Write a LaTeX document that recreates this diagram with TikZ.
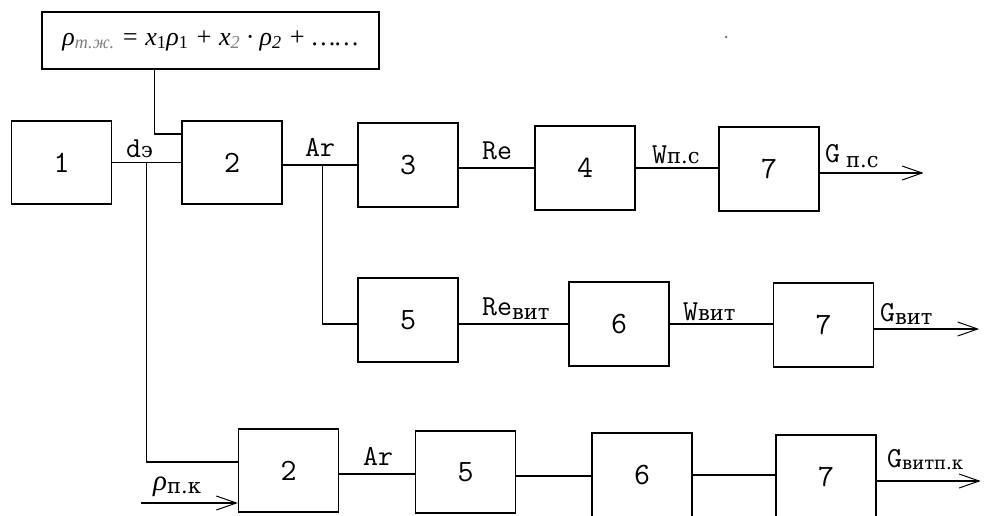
\documentclass[tikz,border=0pt]{standalone}
\usepackage{fontspec}
\setmainfont{Liberation Serif}
\newfontfamily\cyr{DejaVu Serif}
\usetikzlibrary{arrows.meta,calc}
\newcommand{\cy}[1]{{\cyr\fontsize{21}{23}\selectfont #1}}
\begin{document}
\begin{tikzpicture}[x=1pt,y=-1pt,
  blk/.style={draw,line width=1.3pt,minimum width=100pt,minimum height=84pt,inner sep=0pt,font=\ttfamily\fontsize{31}{33}\selectfont},
  lbl/.style={font=\ttfamily\fontsize{29}{31}\selectfont,inner sep=0pt},
  wire/.style={line width=1.3pt},
  outarrow/.style={wire,-{Straight Barb[length=20pt,width=14pt,line width=1pt]}}]
\useasboundingbox (0,0) rectangle (994,515);
\clip (0,0) rectangle (994,515);
% formula
\node[draw,line width=1.3pt,minimum width=337pt,minimum height=57pt,inner sep=0pt,
  font=\fontsize{26}{28}\selectfont\itshape] (f) at (210.5,40.5)
  {ρ\textsubscript{\color{gray}т.ж.} = x\textsubscript{\upshape 1}ρ\textsubscript{\upshape 1} + x\textsubscript{\color{gray}2} · ρ\textsubscript{2} + ……};
% row 1
\node[blk,minimum height=83pt] (b1) at (61.5,162.5) {1};
\node[blk,minimum height=83pt] (b2) at (232,162.5) {2};
\node[blk] (b3) at (408,165) {3};
\node[blk] (b4) at (585,168) {4};
\node[blk] (b7a) at (769,169) {7};
% row 2
\node[blk] (b5) at (408,320) {5};
\node[blk] (b6) at (619,324) {6};
\node[blk] (b7b) at (823.5,325) {7};
% row 3
\node[blk,minimum height=83pt] (b2c) at (288.5,470.5) {2};
\node[blk,minimum height=82pt] (b5c) at (465.5,472) {5};
\node[blk] (b6c) at (642,475) {6};
\node[blk] (b7c) at (826,477) {7};
% wires
\draw[wire] (b1.east) -- (b2.west);
\coordinate (jd) at ($(b1.east)+(34.5,0)$);
\draw[wire] (jd) |- ($(b2c.west)+(0,-8.5)$);
\draw[wire] ($(f.south west)+(113,0)$) |- ($(b2.west)+(0,-28.5)$);
\draw[wire] (b2.east |- b3.west) -- (b3.west);
\coordinate (ja) at ($(b2.east |- b3.west)+(40,0)$);
\draw[wire] (ja) |- (b5.west |- b6.west);
\draw[wire] (b5.east |- b6.west) -- (b6.west);
\draw[wire] (b3.east |- b4.west) -- (b4.west);
\draw[wire] (b4.east) -- (b4.east -| b7a.west);
\draw[wire] (b6.east) -- (b6.east -| b7b.west);
\draw[wire] ($(b2c.east)+(0,3.5)$) -- ($(b5c.west)+(0,2)$);
\draw[wire] ($(b5c.east)+(0,4)$) -- ($(b6c.west)+(0,1)$);
\draw[wire] (b6c.east) -- (b6c.east -| b7c.west);
\draw[outarrow] ($(b7a.east)+(0,4)$) -- ++(104,0);
\draw[outarrow] ($(b7b.east)+(0,4)$) -- ++(105,0);
\draw[outarrow] ($(b7c.east)+(0,4)$) -- ++(104,0);
\coordinate (pin) at (141,503);
\draw[outarrow] (pin) -- (pin -| b2c.west);
% labels
\node[lbl,anchor=base west] (ld) at (126,157) {d\cy{э}};
\node[lbl,anchor=base west] (lar1) at (305,156) {Ar};
\node[lbl,anchor=base west] (lre) at (482,159) {Re};
\node[lbl,anchor=base west] (lw1) at (652,163) {W\cy{п.с}};
\node[lbl,anchor=base west] (lg1) at (825,162) {G\hspace{6pt}\raisebox{-5pt}{\cy{п.с}}};
\node[lbl,anchor=base west] (lre2) at (482,315) {Re\raisebox{-4pt}{\cy{вит}}};
\node[lbl,anchor=base west] (lw2) at (683,320) {W\cy{вит}};
\node[lbl,anchor=base west] (lg2) at (880,321) {G\raisebox{-3pt}{\cy{вит}}};
\node[lbl,anchor=base west] (lp) at (153,490) {{\rmfamily\itshape ρ}\raisebox{-3pt}{\cy{п.к}}};
\node[lbl,anchor=base west] (lar2) at (363,465) {Ar};
\node[lbl,anchor=base west] (lg3) at (887,467) {G\raisebox{-2pt}{{\cyr\fontsize{18}{20}\selectfont витп.к}}};
\fill[gray] (726,37) circle (1.5pt);
\end{tikzpicture}
\end{document}
